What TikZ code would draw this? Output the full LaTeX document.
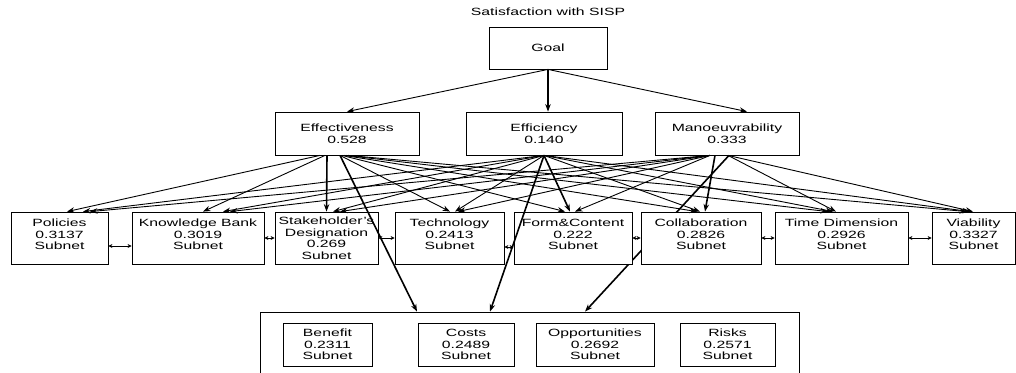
\documentclass[tikz,border=0pt]{standalone}
\usepackage{fontspec}
\setmainfont{Liberation Sans}[FakeStretch=1.5]
\usetikzlibrary{arrows.meta,backgrounds}

\begin{document}
\begin{tikzpicture}[x=1pt,y=-1pt]
        % styles
        \tikzstyle{box}=[draw, fill=white, line width=0.8pt, inner sep=0pt, align=center, font=\fontsize{10.5}{11.5}\selectfont]
        \tikzstyle{subnet}=[box, minimum height=52pt, execute at end node={\rule[-7pt]{0pt}{7pt}}]
        \tikzstyle{bocrnode}=[box, minimum height=43pt]
        \tikzstyle{link}=[->, line width=0.9pt, >={Stealth[length=7.5pt,width=5.5pt]}]
        \tikzstyle{strong}=[link, line width=1.6pt]
        \tikzstyle{pair}=[<->, line width=1pt, >={Stealth[length=4pt,width=4pt]}]

        % frame
        \useasboundingbox (0,0) rectangle (1016,372);
        \clip (0,0) rectangle (1016,372);

        % goal
        \node[font=\fontsize{10.5}{11.5}\selectfont] (title) at (548,12) {Satisfaction with SISP};
        \node[box, minimum width=118pt, minimum height=42pt] (goal) at (548,48) {Goal};

        % criteria
        \node[box, minimum width=144pt, minimum height=43pt] (eff) at (347,133.5) {Effectiveness\\0.528};
        \node[box, minimum width=156pt, minimum height=43pt] (effic) at (544,133.5) {Efficiency\\0.140};
        \node[box, minimum width=144pt, minimum height=43pt] (man) at (727,133.5) {Manoeuvrability\\0.333};

        % subnets
        \node[subnet, minimum width=97pt] (pol) at (59.5,238) {Policies\\0.3137\\Subnet};
        \node[subnet, minimum width=132pt] (kb) at (198,238) {Knowledge Bank\\0.3019\\Subnet};
        \node[box, minimum width=103pt, minimum height=52pt] (sd) at (326.5,238) {Stakeholder's\\Designation\\0.269\\Subnet};
        \node[subnet, minimum width=109pt] (tech) at (449.5,238) {Technology\\0.2413\\Subnet};
        \node[subnet, minimum width=118pt] (fc) at (573,238) {Form\&Content\\0.222\\Subnet};
        \node[subnet, minimum width=120pt] (col) at (701,238) {Collaboration\\0.2826\\Subnet};
        \node[subnet, minimum width=133pt] (td) at (841.5,238) {Time Dimension\\0.2926\\Subnet};
        \node[subnet, minimum width=83pt] (via) at (973.5,238) {Viability\\0.3327\\Subnet};

        % BOCR cluster
        \node[draw, line width=0.8pt, minimum width=539pt, minimum height=80pt, inner sep=0pt] (bocr) at (529.5,352) {};
        \node[bocrnode, minimum width=89pt] (ben) at (327.5,344.5) {Benefit\\0.2311\\Subnet};
        \node[bocrnode, minimum width=96pt] (cost) at (466,344.5) {Costs\\0.2489\\Subnet};
        \node[bocrnode, minimum width=118pt] (opp) at (595,344.5) {Opportunities\\0.2692\\Subnet};
        \node[bocrnode, minimum width=95pt] (risk) at (727.5,344.5) {Risks\\0.2571\\Subnet};

        % goal to criteria
        \draw[link] (goal.south) -- (eff.north);
        \draw[strong] (goal.south) -- ([xshift=4pt]effic.north);
        \draw[link] (goal.south) -- ([xshift=20pt]man.north);

        % effectiveness to subnets
        \draw[link] ([xshift=-27pt]eff.south) -- ([xshift=7.5pt]pol.north);
        \draw[link] ([xshift=-22pt]eff.south) -- ([xshift=5pt]kb.north);
        \draw[strong] ([xshift=-20pt]eff.south) -- (sd.north);
        \draw[link] ([xshift=-7pt]eff.south) -- ([xshift=0.5pt]tech.north);
        \draw[link] ([xshift=-5pt]eff.south) -- ([xshift=-8pt]fc.north);
        \draw[link] ([xshift=-3pt]eff.south) -- ([xshift=-4pt]col.north);
        \draw[link] ([xshift=-1pt]eff.south) -- ([xshift=-13.5pt]td.north);
        \draw[link] ([xshift=1pt]eff.south) -- ([xshift=-6.5pt]via.north);

        % efficiency to subnets
        \draw[link] (effic.south) -- ([xshift=23.5pt]pol.north);
        \draw[link] (effic.south) -- ([xshift=25pt]kb.north);
        \draw[link] (effic.south) -- ([xshift=6.5pt]sd.north);
        \draw[link] (effic.south) -- ([xshift=5.5pt]tech.north);
        \draw[strong] (effic.south) -- ([xshift=-3pt]fc.north);
        \draw[link] (effic.south) -- ([xshift=-1pt]col.north);
        \draw[link] (effic.south) -- ([xshift=-8.5pt]td.north);
        \draw[link] (effic.south) -- ([xshift=-3.5pt]via.north);

        % manoeuvrability to subnets
        \draw[link] ([xshift=-17pt]man.south) -- ([xshift=30.5pt]pol.north);
        \draw[link] ([xshift=-17pt]man.south) -- ([xshift=32pt]kb.north);
        \draw[link] ([xshift=-17pt]man.south) -- ([xshift=13.5pt]sd.north);
        \draw[link] ([xshift=-17pt]man.south) -- ([xshift=8.5pt]tech.north);
        \draw[link] ([xshift=-17pt]man.south) -- ([xshift=2pt]fc.north);
        \draw[strong] ([xshift=-12pt]man.south) -- ([xshift=4pt]col.north);
        \draw[link] ([xshift=1pt]man.south) -- ([xshift=-5.5pt]td.north);
        \draw[link] ([xshift=1pt]man.south) -- ([xshift=-0.5pt]via.north);

        % feedback between subnets
        \draw[pair] ([yshift=-8pt]pol.east) -- ([yshift=-8pt]kb.west);
        \draw[pair] (kb.east) -- (sd.west);
        \draw[pair] (sd.east) -- (tech.west);
        \draw[pair] ([yshift=-9pt]tech.east) -- ([yshift=-9pt]fc.west);
        \draw[pair] (fc.east) -- (col.west);
        \draw[pair] (col.east) -- (td.west);
        \draw[pair] (td.east) -- (via.west);

        % criteria to the BOCR cluster
        \draw[strong] ([xshift=-7pt]eff.south) -- ([xshift=-112.5pt]bocr.north);
        \draw[strong] (effic.south) -- ([xshift=-39.5pt]bocr.north);
        \begin{pgfonlayer}{background}
            \draw[strong] ([xshift=2pt]man.south) -- ([xshift=55.5pt]bocr.north);
        \end{pgfonlayer}
    \end{tikzpicture}
\end{document}
